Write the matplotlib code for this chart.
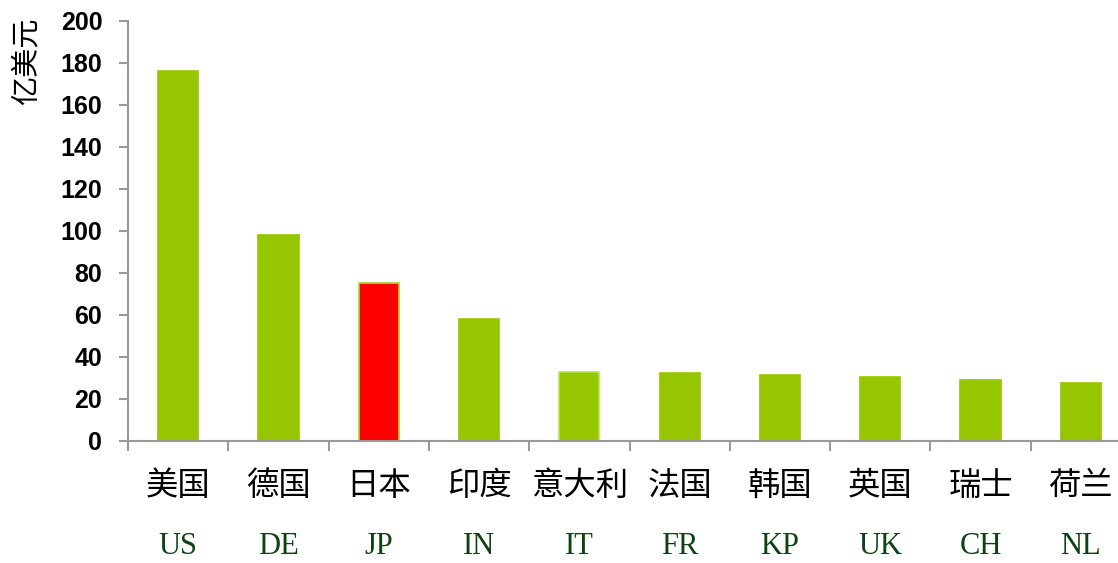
import numpy as np
import matplotlib
matplotlib.use("Agg")
import matplotlib.pyplot as plt
import matplotlib.transforms as transforms

# data
names_cn = ['美国', '德国', '日本', '印度', '意大利', '法国', '韩国', '英国', '瑞士', '荷兰']
names_en = ['US', 'DE', 'JP', 'IN', 'IT', 'FR', 'KP', 'UK', 'CH', 'NL']
values = [176.2, 98.1, 75.2, 58.1, 32.9, 32.4, 31.4, 30.5, 29.0, 27.6]
yticks = [0, 20, 40, 60, 80, 100, 120, 140, 160, 180, 200]

GREEN = '#95c600'
RED = '#ff0000'

fig = plt.figure(figsize=(11.18, 5.63), dpi=100)
ax = fig.add_axes([128 / 1118, 1 - 441 / 563, 1003 / 1118, 420 / 563])

x = np.arange(len(values))
colors = [RED if n == 'JP' else GREEN for n in names_en]
edges = ['#a8d62c' if n == 'JP' else ('#b6e64a' if n == 'IT' else GREEN) for n in names_en]
ax.bar(x, values, width=0.4, color=colors, edgecolor=edges, linewidth=1.2)

ax.set_xlim(-0.5, len(values) - 0.5)
ax.set_ylim(0, 200)
ax.set_yticks(yticks)
ax.set_yticklabels([str(v) for v in yticks], fontsize=18, fontweight='bold',
                   family='Liberation Sans')
ax.set_xticks(np.arange(-0.5, len(values), 1.0))
ax.set_xticklabels([])

for side in ['top', 'right']:
    ax.spines[side].set_visible(False)
for side in ['left', 'bottom']:
    ax.spines[side].set_color('#999999')
    ax.spines[side].set_linewidth(1.5)
ax.tick_params(axis='y', direction='out', length=6.5, width=1.5, color='#999999', pad=12)
ax.tick_params(axis='x', direction='out', length=7, width=1.5, color='#999999')

trans = transforms.blended_transform_factory(ax.transData, fig.transFigure)
for i, (cn, en) in enumerate(zip(names_cn, names_en)):
    ax.text(i, 1 - 486 / 563, cn, transform=trans, ha='center', va='center',
            fontsize=23.3, family=['Noto Sans CJK SC', 'DejaVu Sans'], color='black')
    ax.text(i, 1 - 561 / 563, en, transform=trans, ha='center', va='bottom',
            fontsize=22, family='Liberation Serif', color='#0e4212')

fig.text(27 / 1118, 1 - 18 / 563, '亿美元', rotation=90, ha='center', va='top',
         fontsize=21, family=['Noto Sans CJK SC', 'DejaVu Sans'])

fig.savefig('out.png', dpi=100)
